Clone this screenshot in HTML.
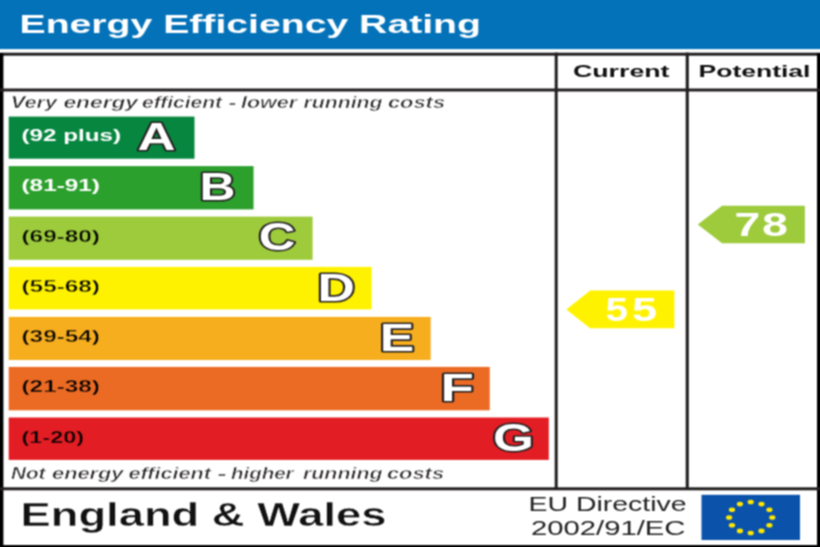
<!DOCTYPE html>
<html><head><meta charset="utf-8"><title>Energy Efficiency Rating</title>
<style>html,body{margin:0;padding:0;background:#fff;width:820px;height:547px;overflow:hidden}svg{display:block}</style>
</head><body>
<svg width="820" height="547" viewBox="0 0 820 547"><defs><filter id="bl" x="0" y="0" width="820" height="547" filterUnits="userSpaceOnUse" color-interpolation-filters="sRGB"><feConvolveMatrix order="3" kernelMatrix="1 2 1 2 4 2 1 2 1" divisor="16" edgeMode="duplicate" preserveAlpha="true"/></filter></defs>
<g filter="url(#bl)" font-family="'Liberation Sans', Arial, sans-serif">
<rect width="820" height="547" fill="#fff"/>
<rect x="0" y="0" width="820" height="49.1" fill="#0472b9"/>
<text x="19.50" y="33.00" font-size="26" font-weight="bold" fill="#fff" textLength="461.50" lengthAdjust="spacingAndGlyphs">Energy Efficiency Rating</text>
<rect x="0" y="52.7" width="820" height="3" fill="#231f20"/>
<rect x="0" y="53" width="3.4" height="494" fill="#000"/>
<rect x="817" y="53" width="3" height="494" fill="#000"/>
<rect x="0" y="545" width="820" height="2" fill="#000"/>
<rect x="0" y="88.5" width="820" height="3" fill="#231f20"/>
<rect x="0" y="487.3" width="820" height="3" fill="#231f20"/>
<rect x="554.7" y="52.6" width="3" height="437" fill="#231f20"/>
<rect x="685.7" y="52.6" width="3.1" height="437" fill="#231f20"/>
<text x="573.00" y="77.20" font-size="16.6" font-weight="bold" fill="#111" textLength="96.50" lengthAdjust="spacingAndGlyphs">Current</text>
<text x="698.50" y="77.20" font-size="16.6" font-weight="bold" fill="#111" textLength="112.00" lengthAdjust="spacingAndGlyphs">Potential</text>
<text y="107.80" font-size="15.6" font-weight="bold" font-style="italic" fill="#231f20" stroke="#fff" stroke-width="0.5"><tspan x="10.86" textLength="46.14" lengthAdjust="spacingAndGlyphs">Very</tspan> <tspan x="63.49" textLength="74.51" lengthAdjust="spacingAndGlyphs">energy</tspan> <tspan x="141.98" textLength="80.02" lengthAdjust="spacingAndGlyphs">efficient</tspan> <tspan x="228.32" textLength="8.25" lengthAdjust="spacingAndGlyphs">-</tspan> <tspan x="241.01" textLength="56.01" lengthAdjust="spacingAndGlyphs">lower</tspan> <tspan x="303.47" textLength="79.04" lengthAdjust="spacingAndGlyphs">running</tspan> <tspan x="387.93" textLength="57.14" lengthAdjust="spacingAndGlyphs">costs</tspan></text>
<text y="478.50" font-size="15.6" font-weight="bold" font-style="italic" fill="#231f20" stroke="#fff" stroke-width="0.5"><tspan x="10.99" textLength="34.51" lengthAdjust="spacingAndGlyphs">Not</tspan> <tspan x="52.00" textLength="71.50" lengthAdjust="spacingAndGlyphs">energy</tspan> <tspan x="128.49" textLength="82.51" lengthAdjust="spacingAndGlyphs">efficient</tspan> <tspan x="216.95" textLength="9.98" lengthAdjust="spacingAndGlyphs">-</tspan> <tspan x="230.99" textLength="62.52" lengthAdjust="spacingAndGlyphs">higher</tspan> <tspan x="302.98" textLength="79.53" lengthAdjust="spacingAndGlyphs">running</tspan> <tspan x="386.93" textLength="57.14" lengthAdjust="spacingAndGlyphs">costs</tspan></text>
<rect x="8.7" y="116.60" width="185.80" height="42.10" fill="#078640"/>
<text x="21.50" y="141.10" font-size="15.6" font-weight="bold" fill="#fff" textLength="99.50" lengthAdjust="spacingAndGlyphs">(92 plus)</text>
<text x="137.50" y="150.30" font-size="38.5" font-weight="bold" fill="#fff" textLength="38.00" lengthAdjust="spacingAndGlyphs" stroke="#231f20" stroke-width="3.2" paint-order="stroke" stroke-linejoin="round">A</text>
<rect x="8.7" y="166.10" width="244.85" height="43.30" fill="#2ca02d"/>
<text x="21.50" y="191.30" font-size="15.6" font-weight="bold" fill="#fff" textLength="78.50" lengthAdjust="spacingAndGlyphs">(81-91)</text>
<text x="199.63" y="199.80" font-size="38.5" font-weight="bold" fill="#fff" textLength="36.00" lengthAdjust="spacingAndGlyphs" stroke="#231f20" stroke-width="3.2" paint-order="stroke" stroke-linejoin="round">B</text>
<rect x="8.7" y="216.60" width="303.90" height="43.20" fill="#9dcb3c"/>
<text x="21.50" y="241.80" font-size="15.6" font-weight="bold" fill="#000" textLength="78.50" lengthAdjust="spacingAndGlyphs" stroke="#9dcb3c" stroke-width="0.4">(69-80)</text>
<text x="258.80" y="250.30" font-size="38.5" font-weight="bold" fill="#fff" textLength="36.75" lengthAdjust="spacingAndGlyphs" stroke="#231f20" stroke-width="3.2" paint-order="stroke" stroke-linejoin="round">C</text>
<rect x="8.7" y="266.90" width="362.95" height="42.50" fill="#fff200"/>
<text x="21.50" y="292.10" font-size="15.6" font-weight="bold" fill="#000" textLength="78.50" lengthAdjust="spacingAndGlyphs" stroke="#fff200" stroke-width="0.4">(55-68)</text>
<text x="317.62" y="300.60" font-size="38.5" font-weight="bold" fill="#fff" textLength="37.42" lengthAdjust="spacingAndGlyphs" stroke="#231f20" stroke-width="3.2" paint-order="stroke" stroke-linejoin="round">D</text>
<rect x="8.7" y="316.90" width="422.00" height="43.10" fill="#f7ae1e"/>
<text x="21.50" y="342.10" font-size="15.6" font-weight="bold" fill="#000" textLength="78.50" lengthAdjust="spacingAndGlyphs" stroke="#f7ae1e" stroke-width="0.4">(39-54)</text>
<text x="379.70" y="350.60" font-size="38.5" font-weight="bold" fill="#fff" textLength="34.51" lengthAdjust="spacingAndGlyphs" stroke="#231f20" stroke-width="3.2" paint-order="stroke" stroke-linejoin="round">E</text>
<rect x="8.7" y="366.90" width="481.05" height="43.40" fill="#ec6b24"/>
<text x="21.50" y="392.10" font-size="15.6" font-weight="bold" fill="#000" textLength="78.50" lengthAdjust="spacingAndGlyphs" stroke="#ec6b24" stroke-width="0.4">(21-38)</text>
<text x="440.57" y="400.60" font-size="38.5" font-weight="bold" fill="#fff" textLength="33.37" lengthAdjust="spacingAndGlyphs" stroke="#231f20" stroke-width="3.2" paint-order="stroke" stroke-linejoin="round">F</text>
<rect x="8.7" y="417.50" width="540.10" height="42.40" fill="#e31d24"/>
<text x="21.50" y="442.70" font-size="15.6" font-weight="bold" fill="#000" textLength="62.50" lengthAdjust="spacingAndGlyphs" stroke="#e31d24" stroke-width="0.4">(1-20)</text>
<text x="493.06" y="451.20" font-size="38.5" font-weight="bold" fill="#fff" textLength="40.99" lengthAdjust="spacingAndGlyphs" stroke="#231f20" stroke-width="3.2" paint-order="stroke" stroke-linejoin="round">G</text>
<polygon points="566.4,309.45 590.2,290.6 674.4,290.6 674.4,328.3 590.2,328.3" fill="#fff200"/>
<text y="321.30" font-size="32.5" font-weight="bold" fill="#fff"><tspan x="605.56" textLength="22.48" lengthAdjust="spacingAndGlyphs">5</tspan><tspan x="632.08" textLength="25.03" lengthAdjust="spacingAndGlyphs">5</tspan></text>
<polygon points="697.8,224.50 722,205.8 804.9,205.8 804.9,243.2 722,243.2" fill="#9dcb3c"/>
<text y="235.60" font-size="32.5" font-weight="bold" fill="#fff"><tspan x="734.42" textLength="25.73" lengthAdjust="spacingAndGlyphs">7</tspan><tspan x="762.01" textLength="25.96" lengthAdjust="spacingAndGlyphs">8</tspan></text>
<text x="20.50" y="525.50" font-size="33.2" font-weight="bold" fill="#111" textLength="366.00" lengthAdjust="spacingAndGlyphs" stroke="#fff" stroke-width="0.45">England &amp; Wales</text>
<text x="528.50" y="510.80" font-size="19.3" fill="#222" textLength="158.00" lengthAdjust="spacingAndGlyphs">EU Directive</text>
<text x="531.00" y="535.30" font-size="19.4" fill="#222" textLength="154.50" lengthAdjust="spacingAndGlyphs">2002/91/EC</text>
<rect x="701.5" y="494.8" width="98.5" height="45.2" fill="#0b52ab"/>
<ellipse cx="750.70" cy="502.00" rx="3.1" ry="2.3" fill="#ffe800"/>
<ellipse cx="761.50" cy="504.08" rx="3.1" ry="2.3" fill="#ffe800"/>
<ellipse cx="769.41" cy="509.75" rx="3.1" ry="2.3" fill="#ffe800"/>
<ellipse cx="772.30" cy="517.50" rx="3.1" ry="2.3" fill="#ffe800"/>
<ellipse cx="769.41" cy="525.25" rx="3.1" ry="2.3" fill="#ffe800"/>
<ellipse cx="761.50" cy="530.92" rx="3.1" ry="2.3" fill="#ffe800"/>
<ellipse cx="750.70" cy="533.00" rx="3.1" ry="2.3" fill="#ffe800"/>
<ellipse cx="739.90" cy="530.92" rx="3.1" ry="2.3" fill="#ffe800"/>
<ellipse cx="731.99" cy="525.25" rx="3.1" ry="2.3" fill="#ffe800"/>
<ellipse cx="729.10" cy="517.50" rx="3.1" ry="2.3" fill="#ffe800"/>
<ellipse cx="731.99" cy="509.75" rx="3.1" ry="2.3" fill="#ffe800"/>
<ellipse cx="739.90" cy="504.08" rx="3.1" ry="2.3" fill="#ffe800"/>
</g>
</svg>
</body></html>
